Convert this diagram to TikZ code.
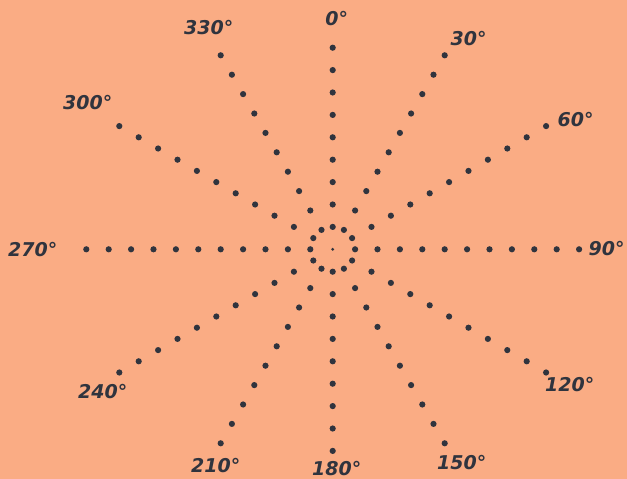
\documentclass[tikz,border=0pt]{standalone}
\usepackage{fontspec}
\usepackage{tikz}
\usetikzlibrary{positioning}
\usepackage{xcolor}
\newfontfamily\degfont{DejaVu Sans}
\definecolor{paper}{RGB}{250,172,132}
\definecolor{ink}{RGB}{48,52,62}

\begin{document}
\begin{tikzpicture}[x=1pt, y=1pt,
    spot/.style={fill=ink},
    deg/.style={font=\degfont\bfseries\itshape\fontsize{19}{19}\selectfont, text=ink, inner sep=0pt}
]
    \fill[paper] (-332.7,-229.7) rectangle (294.3,249.3);

    % centre mark
    \fill[spot] (0,0) circle (1.6);

    % rays of dots: angle / number of dots
    \foreach \ang/\n in {0/9, 30/10, 60/11, 90/11, 120/11, 150/10,
                         180/9, 210/10, 240/11, 270/11, 300/11, 330/10}
        \foreach \k in {1,...,\n}
            \fill[spot] ({90-\ang}:{22.4*\k}) circle (3.1);

    \node[deg] (d0)   at (4,231)     {0\textdegree};
    \node[deg] (d30)  at (136,211)   {30\textdegree};
    \node[deg] (d60)  at (243,130)   {60\textdegree};
    \node[deg] (d90)  at (274,1)     {90\textdegree};
    \node[deg] (d120) at (237,-135)  {120\textdegree};
    \node[deg] (d150) at (129,-213)  {150\textdegree};
    \node[deg] (d180) at (4,-219)    {180\textdegree};
    \node[deg] (d210) at (-117,-216) {210\textdegree};
    \node[deg] (d240) at (-230,-142) {240\textdegree};
    \node[deg] (d270) at (-300,0)    {270\textdegree};
    \node[deg] (d300) at (-245,147)  {300\textdegree};
    \node[deg] (d330) at (-124,222)  {330\textdegree};
\end{tikzpicture}
\end{document}
